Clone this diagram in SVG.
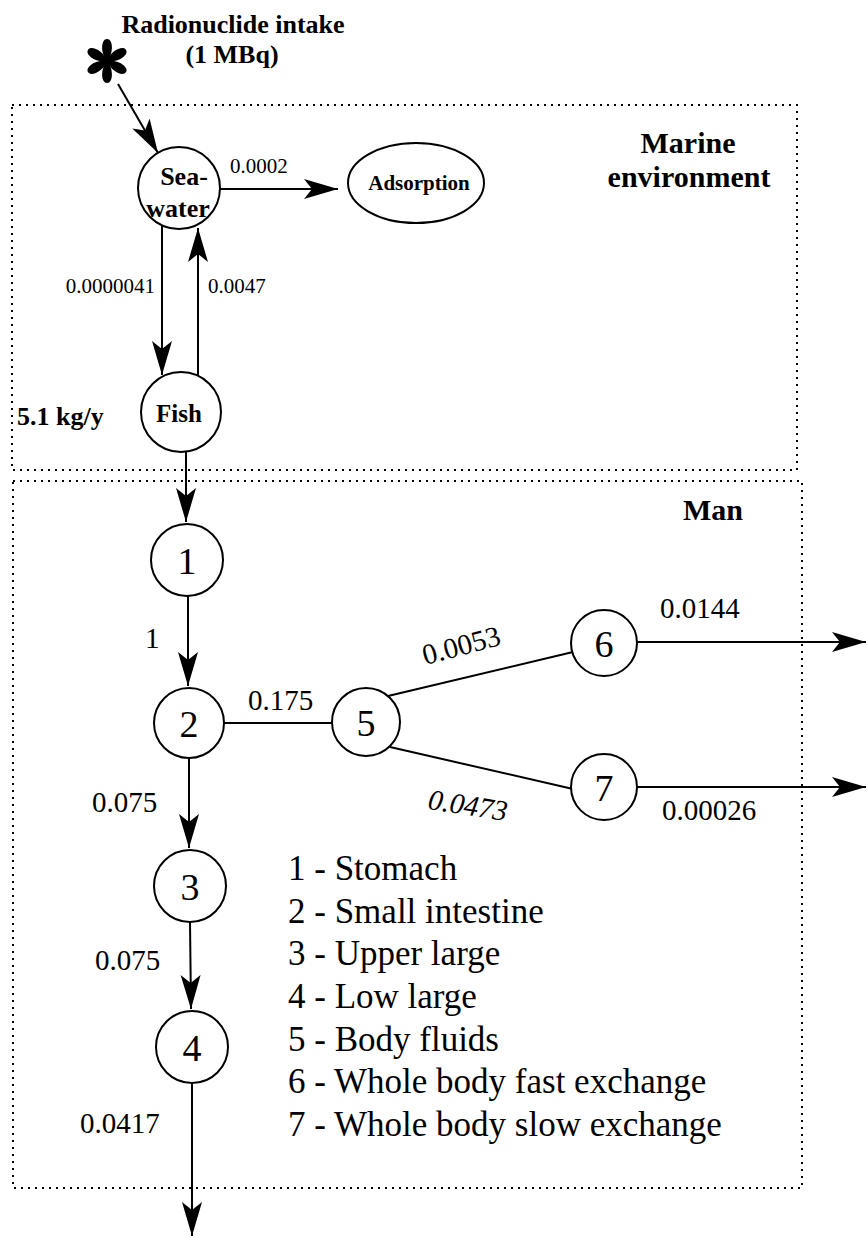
<svg xmlns="http://www.w3.org/2000/svg" width="868" height="1237" viewBox="0 0 868 1237">
<style>
  .box{fill:none;stroke:#000;stroke-width:2;stroke-dasharray:2 5}
  .node{fill:#fff;stroke:#000;stroke-width:2}
  .edge{fill:none;stroke:#000;stroke-width:2}
  .t{font-family:"Liberation Serif","Times New Roman",serif;fill:#000}
  .b{font-weight:bold}
  .num{font-size:38px;text-anchor:middle}
  .lbl{font-size:29px}
  .sm{font-size:21px}
  .leg{font-size:35px}
</style>
<defs>
  <marker id="ah" markerUnits="userSpaceOnUse" markerWidth="40" markerHeight="24" refX="34" refY="10" orient="auto" viewBox="0 0 40 24">
    <path d="M34,10 L0,0 L8,10 L0,20 Z" fill="#000"/>
  </marker>
</defs>
<rect x="0" y="0" width="868" height="1237" fill="#fff"/>

<g id="title">
  <text class="t b" x="233" y="33" font-size="26" text-anchor="middle">Radionuclide intake</text>
  <text class="t b" x="232" y="63" font-size="26" text-anchor="middle">(1 MBq)</text>
</g>
<g id="source">
  <g transform="translate(107,61)" fill="#000">
    <path d="M0,0 C-7,-8 -6,-22 0,-22 C6,-22 7,-8 0,0 Z"/>
    <path d="M0,0 C-7,-8 -6,-22 0,-22 C6,-22 7,-8 0,0 Z" transform="rotate(60)"/>
    <path d="M0,0 C-7,-8 -6,-22 0,-22 C6,-22 7,-8 0,0 Z" transform="rotate(120)"/>
    <path d="M0,0 C-7,-8 -6,-22 0,-22 C6,-22 7,-8 0,0 Z" transform="rotate(180)"/>
    <path d="M0,0 C-7,-8 -6,-22 0,-22 C6,-22 7,-8 0,0 Z" transform="rotate(240)"/>
    <path d="M0,0 C-7,-8 -6,-22 0,-22 C6,-22 7,-8 0,0 Z" transform="rotate(300)"/>
    <circle r="4"/>
  </g>
</g>

<g id="marine-box">
  <rect class="box" x="12" y="105" width="785" height="365"/>
  <text class="t b" x="688" y="153" font-size="30" text-anchor="middle">Marine</text>
  <text class="t b" x="689" y="187" font-size="30" text-anchor="middle">environment</text>
</g>
<g id="man-box">
  <rect class="box" x="13" y="481" width="789" height="707"/>
  <text class="t b" x="683" y="520" font-size="30">Man</text>
</g>

<g id="connectors">
  <line class="edge" x1="118" y1="84" x2="158" y2="153" marker-end="url(#ah)"/>
  <line class="edge" x1="220" y1="189" x2="338" y2="189" marker-end="url(#ah)"/>
  <line class="edge" x1="162" y1="225" x2="162" y2="375" marker-end="url(#ah)"/>
  <line class="edge" x1="198" y1="376" x2="198" y2="228" marker-end="url(#ah)"/>
  <line class="edge" x1="186" y1="452" x2="186" y2="522" marker-end="url(#ah)"/>
  <line class="edge" x1="188" y1="596" x2="188" y2="686" marker-end="url(#ah)"/>
  <line class="edge" x1="224" y1="723" x2="333" y2="723"/>
  <line class="edge" x1="388" y1="696" x2="573" y2="652"/>
  <line class="edge" x1="390" y1="747" x2="573" y2="789"/>
  <line class="edge" x1="637" y1="642" x2="866" y2="642" marker-end="url(#ah)"/>
  <line class="edge" x1="637" y1="787" x2="866" y2="787" marker-end="url(#ah)"/>
  <line class="edge" x1="189" y1="758" x2="189" y2="848" marker-end="url(#ah)"/>
  <line class="edge" x1="190" y1="922" x2="191" y2="1009" marker-end="url(#ah)"/>
  <line class="edge" x1="192" y1="1083" x2="192" y2="1236" marker-end="url(#ah)"/>
  <text class="t sm" x="230" y="173">0.0002</text>
  <text class="t sm" x="155" y="293" text-anchor="end">0.0000041</text>
  <text class="t sm" x="208" y="293">0.0047</text>
  <text class="t lbl" x="145" y="648" font-size="37">1</text>
  <text class="t lbl" x="248" y="710">0.175</text>
  <text class="t lbl" x="462" y="655" text-anchor="middle" transform="rotate(-15 462 648)">0.0053</text>
  <text class="t lbl" x="468" y="815" text-anchor="middle" font-style="italic" font-size="31" transform="rotate(9 468 805)">0.0473</text>
  <text class="t lbl" x="660" y="618">0.0144</text>
  <text class="t lbl" x="662" y="820">0.00026</text>
  <text class="t lbl" x="92" y="812">0.075</text>
  <text class="t lbl" x="95" y="970">0.075</text>
  <text class="t lbl" x="80" y="1133">0.0417</text>
</g>

<g id="seawater">
  <circle class="node" cx="179" cy="188" r="41"/>
  <text class="t b" x="184" y="185" font-size="26" text-anchor="middle">Sea-</text>
  <text class="t b" x="178" y="217" font-size="26" text-anchor="middle">water</text>
</g>
<g id="adsorption">
  <ellipse class="node" cx="416" cy="183" rx="68" ry="40"/>
  <text class="t b" x="419" y="190" font-size="21" text-anchor="middle">Adsorption</text>
</g>
<g id="fish">
  <circle class="node" cx="181" cy="412" r="40"/>
  <text class="t b" x="179" y="422" font-size="25" text-anchor="middle">Fish</text>
  <text class="t b" x="17" y="425" font-size="26">5.1 kg/y</text>
</g>
<g id="n1"><circle class="node" cx="187" cy="560" r="36"/><text class="t num" x="187" y="574">1</text></g>
<g id="n2"><circle class="node" cx="189" cy="723" r="35"/><text class="t num" x="189" y="737">2</text></g>
<g id="n3"><circle class="node" cx="190" cy="886" r="36"/><text class="t num" x="190" y="900">3</text></g>
<g id="n4"><circle class="node" cx="192" cy="1047" r="36"/><text class="t num" x="192" y="1061">4</text></g>
<g id="n5"><circle class="node" cx="366" cy="722" r="34"/><text class="t num" x="366" y="736">5</text></g>
<g id="n6"><circle class="node" cx="604" cy="643" r="33"/><text class="t num" x="604" y="657">6</text></g>
<g id="n7"><circle class="node" cx="604" cy="787" r="33"/><text class="t num" x="604" y="801">7</text></g>

<g id="legend">
  <text class="t leg" x="288" y="880">1 - Stomach</text>
  <text class="t leg" x="288" y="923">2 - Small intestine</text>
  <text class="t leg" x="288" y="965">3 - Upper large</text>
  <text class="t leg" x="288" y="1008">4 - Low large</text>
  <text class="t leg" x="288" y="1051">5 - Body fluids</text>
  <text class="t leg" x="288" y="1093">6 - Whole body fast exchange</text>
  <text class="t leg" x="288" y="1136">7 - Whole body slow exchange</text>
</g>
</svg>
